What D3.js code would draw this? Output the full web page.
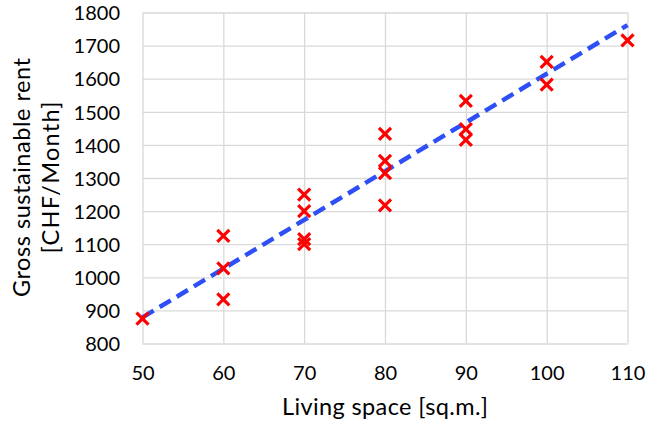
<!DOCTYPE html>
<html><head><meta charset="utf-8">
<script src="https://cdn.jsdelivr.net/npm/d3@7"></script>
<style>body{margin:0;background:#fff}svg{display:block}text{font-family:Lato,"Open Sans",sans-serif;fill:#000}</style>
</head><body><svg id="c" width="646" height="426"></svg>
<script>
const xs = [50, 60, 60, 60, 70, 70, 70, 70, 80, 80, 80, 80, 90, 90, 90, 100, 100, 110];
const ys = [875, 1125, 1027, 933, 1250, 1200, 1115, 1100, 1433, 1352, 1315, 1217, 1533, 1448, 1415, 1651, 1582, 1716];
const trendX = [50, 110];
const trendY = [879, 1762];
const xTicks = [50, 60, 70, 80, 90, 100, 110];
const yTicks = [800, 900, 1000, 1100, 1200, 1300, 1400, 1500, 1600, 1700, 1800];
const xTitle = "Living space [sq.m.]";
const yTitle = ["Gross sustainable rent", "[CHF/Month]"];

const svg = d3.select("#c");
const L = 142.5, R = 627.5, T = 12.5, B = 343.5;
const x = d3.scaleLinear().domain([50, 110]).range([L, R]);
const y = d3.scaleLinear().domain([800, 1800]).range([B, T]);
const grid = "#d9d9d9";

const gy = svg.append("g").attr("transform", `translate(${L},0)`)
  .call(d3.axisLeft(y).tickValues(yTicks).tickSize(-(R - L)).tickPadding(22.5).tickFormat(d3.format("d")));
const gx = svg.append("g").attr("transform", `translate(0,${B})`)
  .call(d3.axisBottom(x).tickValues(xTicks).tickSize(-(B - T)).tickFormat(d3.format("d")));
[gx, gy].forEach(g => {
  g.select(".domain").remove();
  g.selectAll(".tick line").attr("stroke", grid).attr("stroke-width", 1.3);
  g.selectAll(".tick text").attr("font-size", 20).attr("font-family", "Lato, sans-serif").attr("fill", "#000");
});
gy.selectAll(".tick text").attr("dy", "0.36em");
gx.selectAll(".tick text").attr("y", 36.5).attr("dy", 0);

svg.append("path")
  .datum(trendX.map((v, i) => [v, trendY[i]]))
  .attr("d", d3.line().x(d => x(d[0])).y(d => y(d[1])))
  .attr("fill", "none").attr("stroke", "#2e4ff5").attr("stroke-width", 4.5)
  .attr("stroke-dasharray", "13,7");

const s = 6;
svg.append("g").selectAll("path").data(xs.map((v, i) => [v, ys[i]])).join("path")
  .attr("d", d => { const cx = x(d[0]), cy = y(d[1]);
    return `M${cx - s},${cy - s}L${cx + s},${cy + s}M${cx - s},${cy + s}L${cx + s},${cy - s}`; })
  .attr("stroke", "#ff0000").attr("stroke-width", 3.2).attr("fill", "none");

svg.append("text").attr("x", (L + R) / 2).attr("y", 414.5).attr("text-anchor", "middle")
  .attr("font-size", 23.5).attr("textLength", 206).attr("lengthAdjust", "spacing").text(xTitle);
const yCenters = [177.5, 177.5], yBase = [30, 59], yLens = [239, 152];
yTitle.forEach((t, i) => svg.append("text")
  .attr("transform", `translate(${yBase[i]},${yCenters[i]}) rotate(-90)`)
  .attr("text-anchor", "middle").attr("font-size", 23.5)
  .attr("textLength", yLens[i]).attr("lengthAdjust", "spacing").text(t));
</script></body></html>
